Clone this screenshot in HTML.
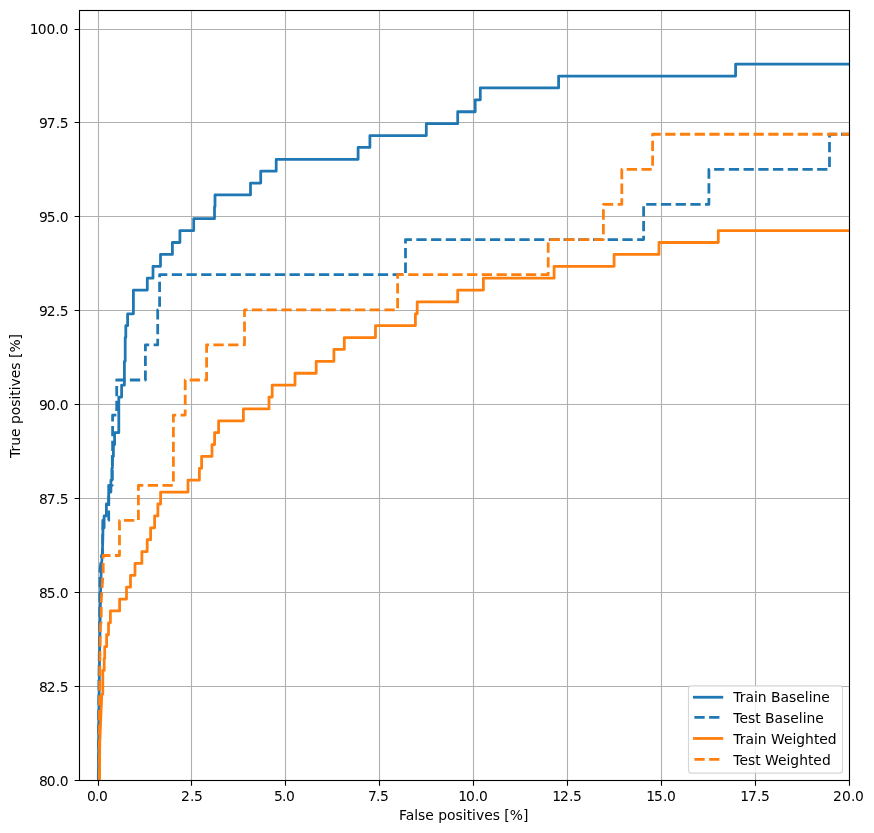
<!DOCTYPE html>
<html lang="en"><head><meta charset="utf-8"><title>ROC</title>
<style>html,body{margin:0;padding:0;background:#fff}svg{display:block}text{font-family:"DejaVu Sans","Liberation Sans",sans-serif;font-size:13.89px;fill:#000}</style></head><body>
<svg width="874" height="833" viewBox="0 0 874 833">
<rect width="874" height="833" fill="#fff"/>
<defs><clipPath id="ax"><rect x="78.77" y="9.77" width="770.73" height="770.73"/></clipPath></defs>
<path d="M98.5 9.77 V780.50 M191.5 9.77 V780.50 M285.5 9.77 V780.50 M379.5 9.77 V780.50 M473.5 9.77 V780.50 M567.5 9.77 V780.50 M661.5 9.77 V780.50 M755.5 9.77 V780.50 M849.5 9.77 V780.50 M78.77 780.5 H849.50 M78.77 686.5 H849.50 M78.77 592.5 H849.50 M78.77 498.5 H849.50 M78.77 404.5 H849.50 M78.77 310.5 H849.50 M78.77 216.5 H849.50 M78.77 122.5 H849.50 M78.77 29.5 H849.50" stroke="#b0b0b0" stroke-width="1.11" fill="none" clip-path="url(#ax)"/>
<g clip-path="url(#ax)" fill="none" stroke-width="2.78" stroke-linejoin="round">
<path d="M98.40 836.00 L98.40 780.00 L98.80 720.00 L99.50 660.00 L100.00 630.00 L100.60 592.00 L101.20 570.00 L102.20 555.00 L102.80 540.00 L103.00 527.78 L104.10 527.78 L104.10 515.89 L106.40 515.89 L106.40 504.01 L108.70 504.01 L108.70 492.12 L110.90 492.12 L110.90 480.23 L111.90 480.23 L111.90 468.35 L112.40 468.35 L112.40 456.46 L113.40 456.46 L113.40 444.57 L114.60 444.57 L114.60 432.69 L118.80 432.69 L118.80 397.03 L121.60 397.03 L121.60 385.14 L124.40 385.14 L124.40 361.37 L125.20 361.37 L125.20 337.60 L125.80 337.60 L125.80 325.71 L127.60 325.71 L127.60 313.82 L133.40 313.82 L133.40 290.05 L147.30 290.05 L147.30 278.16 L153.00 278.16 L153.00 266.28 L160.50 266.28 L160.50 254.39 L172.40 254.39 L172.40 242.51 L179.90 242.51 L179.90 230.62 L193.70 230.62 L193.70 218.73 L214.50 218.73 L214.50 206.85 L215.00 206.85 L215.00 194.96 L250.50 194.96 L250.50 183.07 L260.70 183.07 L260.70 171.19 L276.20 171.19 L276.20 159.30 L358.10 159.30 L358.10 147.41 L369.90 147.41 L369.90 135.53 L426.30 135.53 L426.30 123.64 L457.70 123.64 L457.70 111.75 L475.20 111.75 L475.20 99.87 L480.30 99.87 L480.30 87.98 L558.60 87.98 L558.60 76.10 L735.60 76.10 L735.60 64.21 L851.77 64.21" stroke="#1f77b4" stroke-linecap="square"/>
<path d="M98.30 836.00 L98.30 780.00 L98.60 720.00 L99.20 660.00 L99.60 630.00 L99.80 592.00 L100.00 570.00 L101.60 555.51 L102.60 555.51 L102.60 540.00 L102.80 520.40 L108.70 520.40 L108.70 485.30 L112.30 485.30 L112.30 450.19 L112.60 450.19 L112.60 415.09 L116.70 415.09 L116.70 379.99 L145.40 379.99 L145.40 344.88 L157.70 344.88 L157.70 309.78 L159.60 309.78 L159.60 274.68 L405.50 274.68 L405.50 239.57 L643.60 239.57 L643.60 204.47 L708.90 204.47 L708.90 169.36 L829.50 169.36 L829.50 134.26 L851.77 134.26" stroke="#1f77b4" stroke-dasharray="10.28 4.44" stroke-dashoffset="1.58" stroke-linecap="butt"/>
<path d="M99.50 836.00 L99.50 780.00 L99.70 745.00 L100.70 720.00 L101.80 694.19 L102.80 694.19 L102.80 670.42 L104.20 670.42 L104.20 658.53 L104.70 658.53 L104.70 646.64 L106.60 646.64 L106.60 634.76 L108.50 634.76 L108.50 622.87 L110.40 622.87 L110.40 610.98 L119.60 610.98 L119.60 599.10 L126.50 599.10 L126.50 587.21 L130.50 587.21 L130.50 575.32 L135.00 575.32 L135.00 563.44 L141.90 563.44 L141.90 551.55 L147.20 551.55 L147.20 539.66 L150.60 539.66 L150.60 527.78 L154.60 527.78 L154.60 515.89 L157.90 515.89 L157.90 504.01 L160.60 504.01 L160.60 492.12 L188.00 492.12 L188.00 480.23 L199.40 480.23 L199.40 468.35 L201.60 468.35 L201.60 456.46 L212.00 456.46 L212.00 444.57 L214.60 444.57 L214.60 432.69 L218.60 432.69 L218.60 420.80 L243.40 420.80 L243.40 408.91 L269.00 408.91 L269.00 397.03 L272.20 397.03 L272.20 385.14 L295.00 385.14 L295.00 373.26 L316.20 373.26 L316.20 361.37 L333.90 361.37 L333.90 349.48 L344.30 349.48 L344.30 337.60 L375.50 337.60 L375.50 325.71 L415.40 325.71 L415.40 313.82 L417.20 313.82 L417.20 301.94 L457.70 301.94 L457.70 290.05 L483.40 290.05 L483.40 278.16 L554.10 278.16 L554.10 266.28 L614.10 266.28 L614.10 254.39 L659.00 254.39 L659.00 242.51 L718.30 242.51 L718.30 230.62 L851.77 230.62" stroke="#ff7f0e" stroke-linecap="square"/>
<path d="M99.30 836.00 L99.30 780.00 L99.30 720.00 L99.90 660.00 L100.30 626.00 L101.20 622.00 L101.30 600.00 L101.90 590.00 L103.20 572.00 L103.20 555.51 L119.50 555.51 L119.50 520.40 L138.40 520.40 L138.40 485.30 L173.40 485.30 L173.40 415.09 L185.20 415.09 L185.20 379.99 L206.60 379.99 L206.60 344.88 L244.50 344.88 L244.50 309.78 L397.60 309.78 L397.60 274.68 L548.20 274.68 L548.20 239.57 L603.40 239.57 L603.40 204.47 L621.80 204.47 L621.80 169.36 L652.60 169.36 L652.60 134.26 L851.77 134.26" stroke="#ff7f0e" stroke-dasharray="10.28 4.44" stroke-dashoffset="1.99" stroke-linecap="butt"/>
</g>
<path d="M98.5 780.5 v5.2 M191.5 780.5 v5.2 M285.5 780.5 v5.2 M379.5 780.5 v5.2 M473.5 780.5 v5.2 M567.5 780.5 v5.2 M661.5 780.5 v5.2 M755.5 780.5 v5.2 M849.5 780.5 v5.2 M79.5 780.5 h-4.86 M79.5 686.5 h-4.86 M79.5 592.5 h-4.86 M79.5 498.5 h-4.86 M79.5 404.5 h-4.86 M79.5 310.5 h-4.86 M79.5 216.5 h-4.86 M79.5 122.5 h-4.86 M79.5 29.5 h-4.86" stroke="#000" stroke-width="1.11" fill="none"/>
<rect x="79.5" y="10.5" width="770.0" height="770.0" fill="none" stroke="#000" stroke-width="1.11"/>
<text x="86.90 95.05 99.05" y="801.2">0.0</text>
<text x="180.90 189.93 193.97" y="801.2">2.5</text>
<text x="273.90 282.05 286.05" y="801.2">5.0</text>
<text x="367.90 376.05 380.05" y="801.2">7.5</text>
<text x="458.15 466.00 475.00 479.00" y="801.2">10.0</text>
<text x="552.15 560.00 569.00 573.00" y="801.2">12.5</text>
<text x="646.15 654.00 663.00 667.00" y="801.2">15.0</text>
<text x="740.15 748.00 757.00 761.00" y="801.2">17.5</text>
<text x="833.00 842.00 851.00 855.00" y="801.2">20.0</text>
<text x="39.07 46.78 55.82 59.79" y="785.60">80.0</text>
<text x="39.07 46.78 55.82 59.79" y="691.60">82.5</text>
<text x="39.07 46.78 55.82 59.79" y="597.60">85.0</text>
<text x="39.07 46.78 55.82 59.79" y="503.60">87.5</text>
<text x="39.07 46.78 55.82 59.79" y="409.60">90.0</text>
<text x="39.07 46.78 55.82 59.79" y="315.60">92.5</text>
<text x="39.07 46.78 55.82 59.79" y="221.60">95.0</text>
<text x="39.07 46.78 55.82 59.79" y="127.60">97.5</text>
<text x="29.80 37.85 46.44 55.37 59.44" y="34.00">100.0</text>
<text x="463.7" y="819.9" text-anchor="middle">False positives [%]</text>
<text transform="translate(20.3 396.0) rotate(-90)" text-anchor="middle">True positives [%]</text>
<rect x="688.5" y="685.7" width="154.0" height="87.4" rx="2.8" ry="2.8" fill="#fff" fill-opacity="0.8" stroke="#ccc" stroke-opacity="0.8" stroke-width="1.11"/>
<path d="M694.4 697.25 H721.8" stroke="#1f77b4" stroke-width="2.78" stroke-linecap="square" fill="none"/>
<text x="733.3" y="701.6">Train Baseline</text>
<path d="M694.4 717.40 H721.8" stroke="#1f77b4" stroke-width="2.78" stroke-dasharray="10.28 4.44" fill="none"/>
<text x="733.3" y="722.5">Test Baseline</text>
<path d="M694.4 738.45 H721.8" stroke="#ff7f0e" stroke-width="2.78" stroke-linecap="square" fill="none"/>
<text x="733.3" y="743.6">Train Weighted</text>
<path d="M694.4 759.40 H721.8" stroke="#ff7f0e" stroke-width="2.78" stroke-dasharray="10.28 4.44" fill="none"/>
<text x="733.3" y="764.6">Test Weighted</text>
</svg></body></html>
